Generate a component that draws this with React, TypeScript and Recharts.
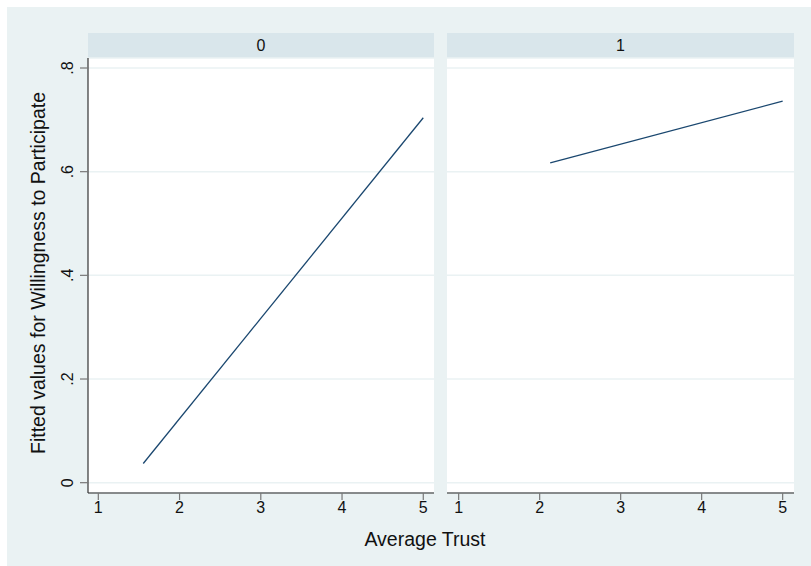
import { LineChart, Line, XAxis, YAxis, CartesianGrid } from 'recharts';

// fitted line endpoints per group
const group0 = [
  { x: 1.553, y: 0.037 },
  { x: 5, y: 0.704 },
];
const group1 = [
  { x: 2.13, y: 0.617 },
  { x: 5, y: 0.736 },
];
const panelLabels = ['0', '1'];
const xTicks = [1, 2, 3, 4, 5];
const yTicks = [0, 0.2, 0.4, 0.6, 0.8];
const yTickLabels = ['0', '.2', '.4', '.6', '.8'];

const FONT = '"Liberation Sans", Arial, Helvetica, sans-serif';
const BG = '#eaf2f3';
const STRIP = '#d9e6eb';
const LINE = '#1a476f';

const YTick = (props: any) => {
  const { x, y, payload } = props;
  const i = yTicks.indexOf(payload.value);
  return (
    <text
      x={x}
      y={y}
      transform={`rotate(-90 ${x} ${y})`}
      textAnchor="middle"
      fontSize={16}
      fontFamily={FONT}
      fill="#111"
    >
      {i >= 0 ? yTickLabels[i] : payload.value}
    </text>
  );
};

const Strip = ({ left, width, label }: { left: number; width: number; label: string }) => (
  <div
    style={{
      position: 'absolute',
      left,
      top: 33,
      width,
      height: 25,
      background: STRIP,
      fontFamily: FONT,
      fontSize: 16,
      lineHeight: '25px',
      textAlign: 'center',
      color: '#111',
    }}
  >
    {label}
  </div>
);

const App = () => {
  return (
    <div style={{ position: 'absolute', left: 0, top: 0, width: 811, height: 566, background: '#fff', overflow: 'hidden' }}>
      <div style={{ position: 'absolute', left: 7, top: 7, width: 804, height: 559, background: BG }} />

      <Strip left={88} width={346} label={panelLabels[0]} />
      <Strip left={447} width={347} label={panelLabels[1]} />

      {/* left panel */}
      <div style={{ position: 'absolute', left: 0, top: 0 }}>
        <LineChart width={434} height={566} data={group0} margin={{ top: 58, right: 0, bottom: 43, left: 58 }}>
          <CartesianGrid horizontal vertical={false} stroke={BG} strokeWidth={1.5} fill="#fff" />
          <XAxis
            type="number"
            dataKey="x"
            domain={[0.873, 5.132]}
            ticks={xTicks}
            height={30}
            tickSize={7}
            axisLine={{ stroke: '#222', strokeWidth: 1.2 }}
            tickLine={{ stroke: '#777', strokeWidth: 1.2 }}
            tick={{ fontSize: 16, fontFamily: FONT, fill: '#111' }}
          />
          <YAxis
            type="number"
            dataKey="y"
            domain={[-0.0199, 0.8193]}
            ticks={yTicks}
            width={30}
            tickSize={8}
            tickMargin={7}
            axisLine={{ stroke: '#333', strokeWidth: 1.2 }}
            tickLine={{ stroke: '#777', strokeWidth: 1.2 }}
            tick={<YTick />}
          />
          <Line type="linear" dataKey="y" stroke={LINE} strokeWidth={1.3} dot={false} isAnimationActive={false} />
        </LineChart>
      </div>

      {/* right panel */}
      <div style={{ position: 'absolute', left: 447, top: 0 }}>
        <LineChart width={347} height={566} data={group1} margin={{ top: 58, right: 0, bottom: 43, left: 0 }}>
          <CartesianGrid horizontal vertical={false} stroke={BG} strokeWidth={1.5} fill="#fff" />
          <XAxis
            type="number"
            dataKey="x"
            domain={[0.856, 5.14]}
            ticks={xTicks}
            height={30}
            tickSize={7}
            axisLine={{ stroke: '#222', strokeWidth: 1.2 }}
            tickLine={{ stroke: '#777', strokeWidth: 1.2 }}
            tick={{ fontSize: 16, fontFamily: FONT, fill: '#111' }}
          />
          <YAxis type="number" dataKey="y" domain={[-0.0199, 0.8193]} ticks={yTicks} hide />
          <Line type="linear" dataKey="y" stroke={LINE} strokeWidth={1.3} dot={false} isAnimationActive={false} />
        </LineChart>
      </div>

      <div
        style={{
          position: 'absolute',
          left: 38 - 200,
          top: 273 - 12,
          width: 400,
          height: 24,
          lineHeight: '24px',
          textAlign: 'center',
          transform: 'rotate(-90deg)',
          fontFamily: FONT,
          fontSize: 19.5,
          color: '#111',
        }}
      >
        Fitted values for Willingness to Participate
      </div>
      <div
        style={{
          position: 'absolute',
          left: 425 - 150,
          top: 539 - 12,
          width: 300,
          height: 24,
          lineHeight: '24px',
          textAlign: 'center',
          fontFamily: FONT,
          fontSize: 19.5,
          color: '#111',
        }}
      >
        Average Trust
      </div>
    </div>
  );
};

export default App;
